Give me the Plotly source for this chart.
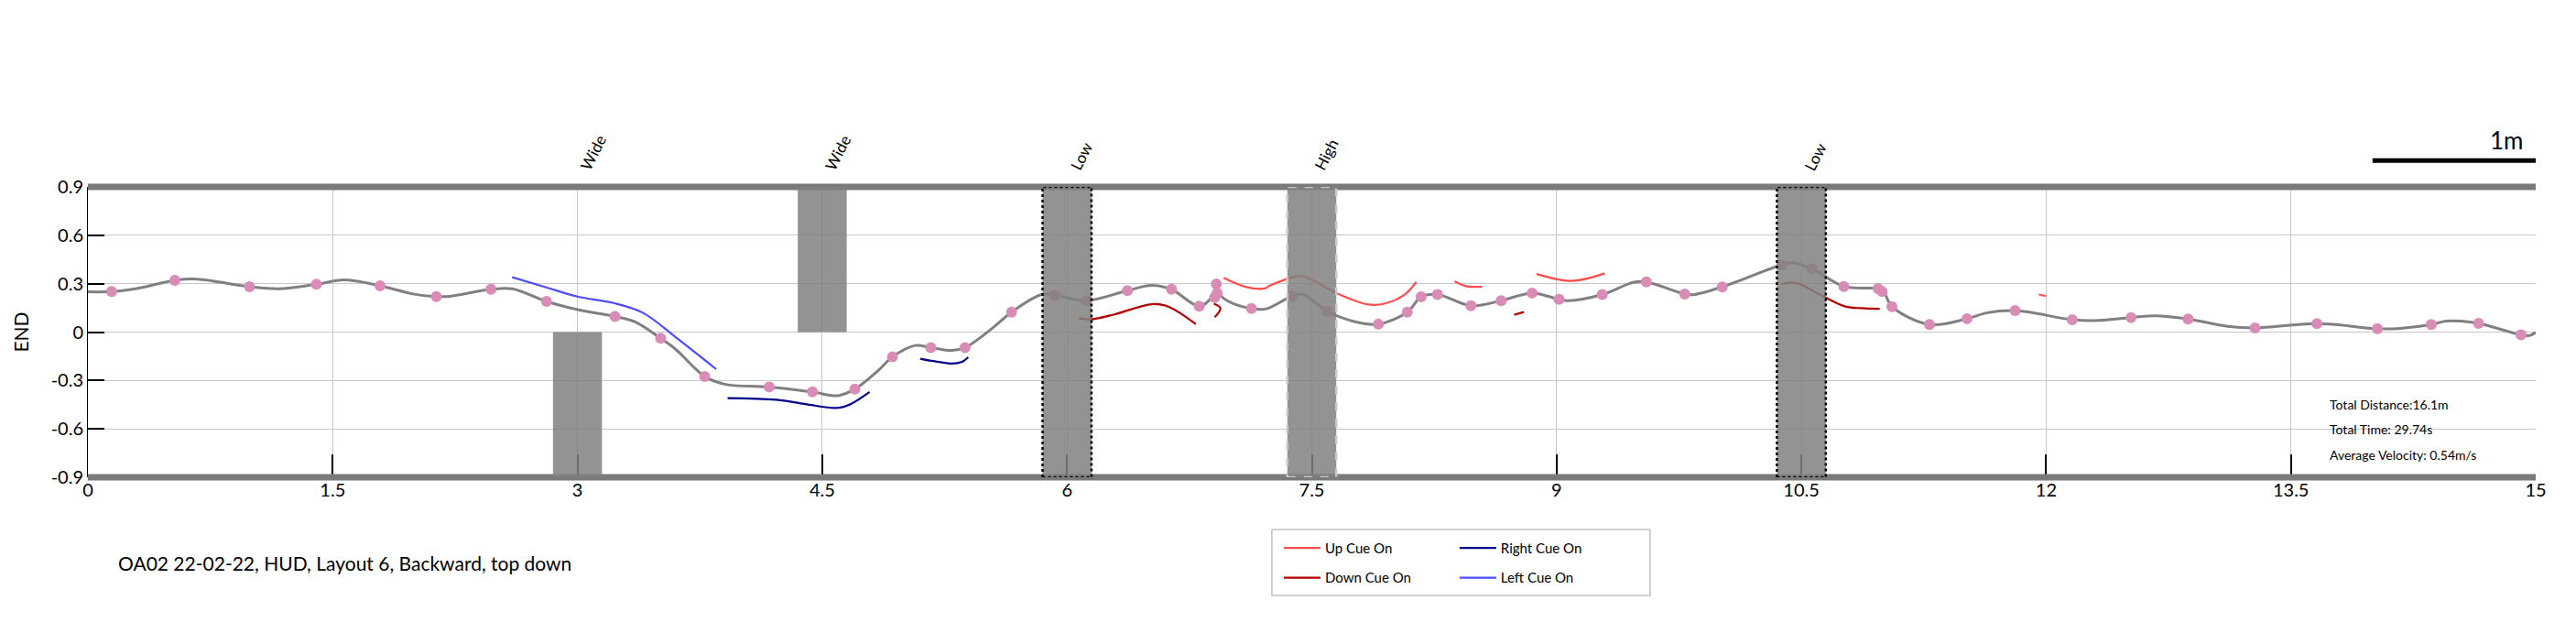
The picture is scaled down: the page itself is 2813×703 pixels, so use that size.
import plotly.graph_objects as go

# path of the walker (smoothed)
path_x = [0.0, 0.145, 0.3, 0.533, 0.67, 0.99, 1.17, 1.40, 1.57, 1.79, 2.0, 2.135, 2.22, 2.47, 2.6,
          2.81, 3.0, 3.23, 3.35, 3.51, 3.6, 3.78, 3.89, 3.945, 4.175, 4.44, 4.595, 4.70, 4.845, 4.93,
          5.07, 5.165, 5.295, 5.375, 5.545, 5.66, 5.845, 5.925, 6.12, 6.37, 6.52, 6.64, 6.81, 6.89,
          6.915, 6.93, 6.99, 7.13, 7.22, 7.38, 7.445, 7.595, 7.765, 7.9075, 8.085, 8.17, 8.27, 8.475,
          8.66, 8.85, 9.015, 9.07, 9.28, 9.47, 9.55, 9.785, 9.845, 10.015, 10.38, 10.445, 10.565,
          10.76, 10.97, 11.0, 11.055, 11.285, 11.515, 11.64, 11.81, 12.16, 12.295, 12.52, 12.67,
          12.87, 13.11, 13.28, 13.66, 14.03, 14.17, 14.36, 14.45, 14.54, 14.65, 14.91, 14.96, 15.0]
path_y = [0.25, 0.251, 0.27, 0.321, 0.328, 0.281, 0.268, 0.296, 0.323, 0.287, 0.235, 0.22, 0.222, 0.265, 0.268,
          0.19, 0.139, 0.096, 0.064, -0.039, -0.105, -0.276, -0.32, -0.33, -0.34, -0.371, -0.394, -0.353, -0.236, -0.154,
          -0.083, -0.096, -0.114, -0.096, 0.026, 0.124, 0.233, 0.229, 0.195, 0.257, 0.289, 0.265, 0.161, 0.22,
          0.29, 0.24, 0.19, 0.146, 0.144, 0.223, 0.233, 0.129, 0.064, 0.049, 0.124, 0.218, 0.233, 0.163,
          0.195, 0.242, 0.203, 0.195, 0.233, 0.308, 0.311, 0.236, 0.233, 0.28, 0.417, 0.43, 0.392,
          0.283, 0.27, 0.26, 0.158, 0.047, 0.083, 0.12, 0.133, 0.077, 0.071, 0.09, 0.101,
          0.081, 0.036, 0.026, 0.053, 0.021, 0.023, 0.047, 0.068, 0.068, 0.054, -0.017, -0.022, -0.002]

# sampled positions (pink dots)
dot_x = [0.145, 0.533, 0.99, 1.40, 1.79, 2.135, 2.47, 2.81, 3.23, 3.51, 3.78, 4.175, 4.44, 4.70, 4.93,
         5.165, 5.375, 5.66, 5.925, 6.12, 6.37, 6.64, 6.81, 6.915, 6.92, 6.905, 7.13, 7.38, 7.595,
         7.9075, 8.085, 8.17, 8.27, 8.475, 8.66, 8.85, 9.015, 9.28, 9.55, 9.785, 10.015, 10.38, 10.565,
         10.76, 10.97, 10.995, 11.055, 11.285, 11.515, 11.81, 12.16, 12.52, 12.87, 13.28, 13.66, 14.03,
         14.36, 14.65, 14.91]
dot_y = [0.251, 0.321, 0.281, 0.296, 0.287, 0.22, 0.265, 0.19, 0.096, -0.039, -0.276, -0.34, -0.371, -0.353, -0.154,
         -0.096, -0.096, 0.124, 0.229, 0.195, 0.257, 0.265, 0.161, 0.298, 0.242, 0.214, 0.146, 0.223, 0.129,
         0.049, 0.124, 0.218, 0.233, 0.163, 0.195, 0.242, 0.203, 0.233, 0.311, 0.236, 0.28, 0.417, 0.392,
         0.283, 0.27, 0.251, 0.158, 0.047, 0.083, 0.133, 0.077, 0.09, 0.081, 0.026, 0.053, 0.021,
         0.047, 0.054, -0.017]

# cue segments (None splits the pieces)
up_x = [6.96, 7.095, 7.21, 7.245, 7.43, 7.495, 7.67, 7.845, 7.945, 8.07, 8.14, None,
        8.375, 8.445, 8.545, None, 8.8775, 9.095, 9.295, None, 11.955, 12.0]
up_y = [0.336, 0.28, 0.27, 0.289, 0.349, 0.326, 0.233, 0.171, 0.176, 0.233, 0.311, None,
        0.315, 0.285, 0.281, None, 0.36, 0.317, 0.364, None, 0.233, 0.223]
down_x = [6.07, 6.145, 6.295, 6.52, 6.62, 6.79, None, 6.9, 6.94, 6.905, None, 8.74, 8.8, None,
          10.38, 10.47, 10.595, 10.77, 10.87, 10.98]
down_y = [0.086, 0.079, 0.111, 0.173, 0.158, 0.049, None, 0.176, 0.148, 0.092, None, 0.107, 0.124, None,
          0.298, 0.304, 0.242, 0.158, 0.148, 0.144]
right_x = [3.92, 4.22, 4.395, 4.595, 4.67, 4.79, None, 5.1, 5.295, 5.357, 5.395]
right_y = [-0.41, -0.42, -0.446, -0.47, -0.448, -0.371, None, -0.165, -0.195, -0.184, -0.156]
left_x = [2.6, 2.8, 3.0, 3.22, 3.4, 3.6, 3.85]
left_y = [0.34, 0.28, 0.22, 0.18, 0.12, -0.03, -0.23]

# obstacles
obs_center = [3, 4.5, 6, 7.5, 10.5]
obs_label = ['Wide', 'Wide', 'Low', 'High', 'Low']
obs_low = [-0.9, 0, -0.9, -0.9, -0.9]
obs_high = [0, 0.9, 0.9, 0.9, 0.9]
obs_half = 0.15

x_ticks = [0, 1.5, 3, 4.5, 6, 7.5, 9, 10.5, 12, 13.5, 15]
y_ticks = [-0.9, -0.6, -0.3, 0, 0.3, 0.6, 0.9]

stats = ['Total Distance:16.1m', 'Total Time: 29.74s', 'Average Velocity: 0.54m/s']

FONT = 'Lato'

fig = go.Figure()
fig.add_trace(go.Scatter(x=path_x, y=path_y, mode='lines', line=dict(color='#808080', width=3, shape='spline'),
                         showlegend=False))
fig.add_trace(go.Scatter(x=dot_x, y=dot_y, mode='markers', marker=dict(color='#d98cb5', size=12),
                         showlegend=False))
fig.add_trace(go.Scatter(x=up_x, y=up_y, mode='lines', name='Up Cue On', legend='legend', legendgroup='u',
                         line=dict(color='#ff4d4d', width=2.2, shape='spline')))
fig.add_trace(go.Scatter(x=down_x, y=down_y, mode='lines', name='Down Cue On', legend='legend', legendgroup='d',
                         line=dict(color='#b30000', width=2.2, shape='spline')))
fig.add_trace(go.Scatter(x=right_x, y=right_y, mode='lines', name='Right Cue On', legend='legend2', legendgroup='r',
                         line=dict(color='#00008c', width=2.2, shape='spline')))
fig.add_trace(go.Scatter(x=left_x, y=left_y, mode='lines', name='Left Cue On', legend='legend2', legendgroup='l',
                         line=dict(color='#4d4dff', width=2.2, shape='spline')))

# thick top / bottom borders
for yy in [0, 1]:
    fig.add_shape(type='line', xref='paper', yref='paper', x0=0, x1=1, y0=yy, y1=yy,
                  line=dict(color='#7a7a7a', width=7), layer='above')

for c, lo, hi, lab in zip(obs_center, obs_low, obs_high, obs_label):
    if lab == 'Low':
        border = dict(color='black', width=2.5, dash='dot')
    elif lab == 'High':
        border = dict(color='#c8c8c8', width=2.5, dash='dash')
    else:
        border = dict(width=0)
    fig.add_shape(type='rect', x0=c - obs_half, x1=c + obs_half, y0=lo, y1=hi,
                  fillcolor='rgba(128,128,128,0.85)', line=border, layer='above')
    fig.add_annotation(x=c, y=0.9, text=lab, showarrow=False, textangle=-63, xanchor='left', yanchor='bottom',
                       xshift=-4, yshift=12, font=dict(family=FONT, size=17, color='black'))

# 1 m scale bar
fig.add_shape(type='line', xref='x', yref='paper', x0=14, x1=15, y0=1.091, y1=1.091,
              line=dict(color='black', width=5))
fig.add_annotation(x=15, y=1.105, xref='x', yref='paper', text='1m', showarrow=False, xanchor='right',
                   yanchor='bottom', xshift=-12, font=dict(family=FONT, size=26, color='black'))

for i, s in enumerate(stats):
    fig.add_annotation(x=0.915, y=0.252 - i * 0.087, xref='paper', yref='paper', text=s, showarrow=False,
                       xanchor='left', yanchor='middle', font=dict(family=FONT, size=14, color='black'))

fig.add_annotation(x=0.0116, y=-0.295, xref='paper', yref='paper', text='OA02 22-02-22, HUD, Layout 6, Backward, top down',
                   showarrow=False, xanchor='left', yanchor='middle', font=dict(family=FONT, size=21, color='black'))

# legend box
fig.add_shape(type='rect', xref='paper', yref='paper', x0=0.4837, x1=0.6382, y0=-0.407, y1=-0.18,
              line=dict(color='#a0a0a0', width=1))

fig.update_layout(
    width=2813, height=703,
    margin=dict(l=88, r=52, t=196, b=190),
    plot_bgcolor='white', paper_bgcolor='white',
    font=dict(family=FONT, size=18, color='black'),
    legend=dict(x=0.4867, y=-0.192, xanchor='left', yanchor='top', bgcolor='rgba(0,0,0,0)',
                font=dict(family=FONT, size=15), tracegroupgap=10, itemwidth=40),
    legend2=dict(x=0.5585, y=-0.192, xanchor='left', yanchor='top', bgcolor='rgba(0,0,0,0)',
                 font=dict(family=FONT, size=15), tracegroupgap=10, itemwidth=40),
    xaxis=dict(range=[0, 15], tickvals=x_ticks, ticktext=[f'{v:g}' for v in x_ticks],
               showgrid=True, gridcolor='#c8c8c8', gridwidth=1, zeroline=False, showline=False,
               ticks='inside', ticklen=25, tickcolor='black', tickwidth=1.5,
               tickfont=dict(family=FONT, size=20)),
    yaxis=dict(range=[-0.9, 0.9], tickvals=y_ticks, ticktext=[f'{v:g}' for v in y_ticks],
               title=dict(text='END', font=dict(family=FONT, size=21), standoff=18),
               showgrid=True, gridcolor='#c8c8c8', gridwidth=1, zeroline=False,
               showline=True, linecolor='black', linewidth=1,
               ticks='inside', ticklen=18, tickcolor='black', tickwidth=1.5,
               tickfont=dict(family=FONT, size=20)),
)

fig.write_html('out.html')
